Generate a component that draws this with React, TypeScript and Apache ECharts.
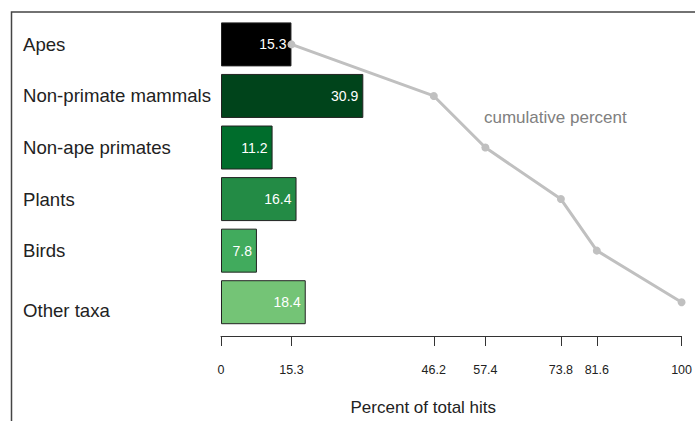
import React, { useEffect, useRef } from "react";
import * as echarts from "echarts";

const categories = ["Apes", "Non-primate mammals", "Non-ape primates", "Plants", "Birds", "Other taxa"];
const percents = [15.3, 30.9, 11.2, 16.4, 7.8, 18.4];
const cumulative = [15.3, 46.2, 57.4, 73.8, 81.6, 100];
const tickValues = [0, 15.3, 46.2, 57.4, 73.8, 81.6, 100];
const barColors = ["#000000", "#00441b", "#006d2c", "#238b45", "#41ab5d", "#74c476"];

export default function App() {
  const ref = useRef<HTMLDivElement>(null);
  useEffect(() => {
    if (!ref.current) return;
    const chart = echarts.init(ref.current, null, { renderer: "svg" });
    const font = "Liberation Sans, Arial, Helvetica, sans-serif";
    chart.setOption({
      animation: false,
      textStyle: { fontFamily: font },
      grid: { left: 221, right: 8, top: 18.6, bottom: 91.3, containLabel: false },
      xAxis: {
        type: "value",
        min: 0,
        max: 100,
        offset: 8,
        splitLine: { show: false },
        axisLine: { show: true, lineStyle: { color: "#333", width: 1 } },
        axisTick: { show: true, length: 10, lineStyle: { color: "#333" }, customValues: tickValues },
        axisLabel: {
          customValues: tickValues,
          margin: 27,
          fontSize: 12.5,
          color: "#222",
          fontFamily: font,
          formatter: (v: number) => String(v),
        },
        name: "Percent of total hits",
        nameLocation: "middle",
        nameGap: 63,
        nameTextStyle: { fontSize: 17, color: "#222", fontFamily: font, padding: [0, 56, 0, 0] },
      },
      yAxis: {
        type: "category",
        data: categories,
        inverse: true,
        axisLine: { show: false },
        axisTick: { show: false },
        splitLine: { show: false },
        axisLabel: {
          align: "left",
          margin: 198,
          fontSize: 18.6,
          color: "#222",
          fontFamily: font,
          formatter: (v: string) => (v === "Other taxa" ? "{low|" + v + "}" : v),
          rich: { low: { fontSize: 18.6, color: "#222", fontFamily: font, padding: [16, 0, 0, 0] } },
        },
      },
      series: [
        {
          type: "bar",
          barWidth: 44,
          data: percents.map((v, i) => ({
            value: v,
            itemStyle: { color: barColors[i], borderColor: "#222", borderWidth: 1 },
          })),
          label: {
            show: true,
            position: "insideRight",
            distance: 5,
            color: "#fff",
            fontSize: 14,
            fontFamily: font,
            formatter: (p: any) => String(p.value),
          },
          z: 2,
        },
        {
          type: "line",
          data: cumulative.map((v, i) => [v, categories[i]]),
          lineStyle: { color: "#c0c0c0", width: 3 },
          itemStyle: { color: "#c0c0c0" },
          symbol: "circle",
          symbolSize: 8,
          z: 5,
        },
      ],
      graphic: [
        {
          type: "rect",
          shape: { x: 11.5, y: 12, width: 900, height: 900 },
          style: { fill: "none", stroke: "#444", lineWidth: 1.5 },
          silent: true,
        },
        {
          type: "text",
          x: 484,
          y: 117,
          style: {
            text: "cumulative percent",
            fontSize: 17,
            fill: "#808080",
            fontFamily: font,
            verticalAlign: "middle",
          },
        },
      ],
    });
    return () => chart.dispose();
  }, []);
  return (
    <div
      ref={ref}
      style={{ position: "fixed", left: 0, top: 0, width: 695, height: 421, background: "#fff" }}
    />
  );
}
